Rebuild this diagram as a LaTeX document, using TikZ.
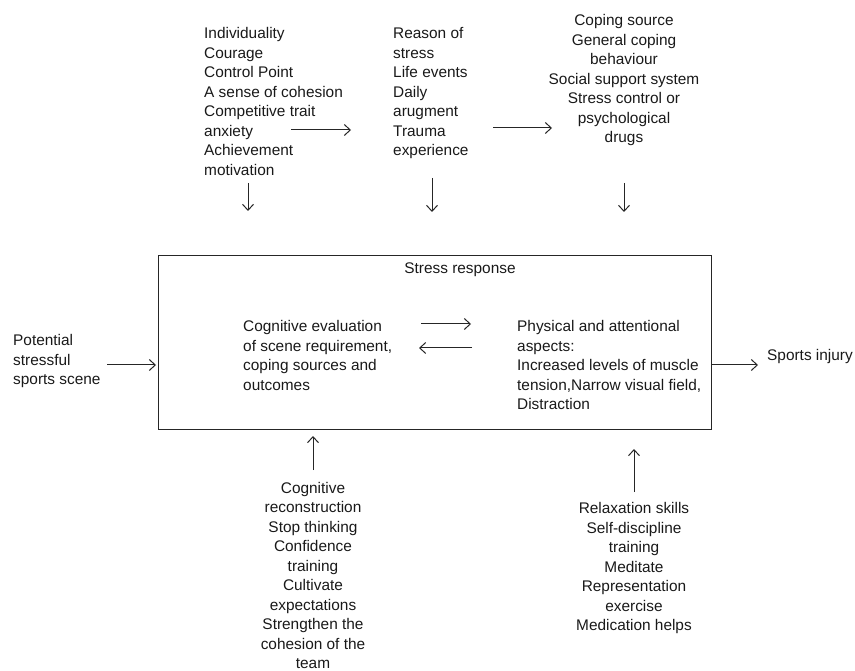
\documentclass[tikz,border=0pt]{standalone}
\usepackage{fontspec}
\setmainfont{Liberation Sans}
\usetikzlibrary{arrows.meta}
\begin{document}
\begin{tikzpicture}[x=1pt,y=-1pt,
  txt/.style={inner sep=0pt, font=\fontsize{15.4}{19.5}\selectfont, text=black!90},
  arr/.style={-{Straight Barb[length=6pt,width=11pt]}, line width=1pt, draw=black!85},
  frame/.style={draw=black!85, line width=1pt, inner sep=0pt}]
\useasboundingbox (0,0) rectangle (855,671);
% top text blocks
\node[txt, anchor=north west, align=left] (pers) at (204,27.5) {Individuality\\Courage\\Control Point\\A sense of cohesion\\Competitive trait\\anxiety\\Achievement\\motivation};
\node[txt, anchor=north west, align=left] (reason) at (393,27.5) {Reason of\\stress\\Life events\\Daily\\arugment\\Trauma\\experience};
\node[txt, anchor=north, align=center] (coping) at (624,14.5) {Coping source\\General coping\\behaviour\\Social support system\\Stress control or\\psychological\\drugs};
% main box
\node[frame, minimum width=553pt, minimum height=174pt, anchor=north west] (box) at (158,255) {};
\node[txt, anchor=north] (sr) at (460,262.5) {Stress response};
\node[txt, anchor=north west, align=left] (pot) at (13,334.5) {Potential\\stressful\\sports scene};
\node[txt, anchor=north west, align=left] (cog) at (243,320.5) {Cognitive evaluation\\of scene requirement,\\coping sources and\\outcomes};
\node[txt, anchor=north west, align=left] (phys) at (517,320.5) {Physical and attentional\\aspects:\\Increased levels of muscle\\tension,Narrow visual field,\\Distraction};
\node[txt, anchor=north west] (inj) at (767,349.5) {Sports injury};
% bottom blocks
\node[txt, anchor=north, align=center] (cogr) at (313,482) {Cognitive\\reconstruction\\Stop thinking\\Confidence\\training\\Cultivate\\expectations\\Strengthen the\\cohesion of the\\team};
\node[txt, anchor=north, align=center] (relax) at (634,502.5) {Relaxation skills\\Self-discipline\\training\\Meditate\\Representation\\exercise\\Medication helps};
% arrow end points
\coordinate (h1s) at (291,130); \coordinate (h1e) at (351,130);
\coordinate (h2s) at (493,128); \coordinate (h2e) at (552,128);
\coordinate (d1s) at (248,183); \coordinate (d1e) at (248,211);
\coordinate (d2s) at (432,178); \coordinate (d2e) at (432,212);
\coordinate (d3s) at (624,183); \coordinate (d3e) at (624,212);
\coordinate (ins) at (107,365);
\coordinate (outs) at (758,365);
\coordinate (rs) at (421,324); \coordinate (re) at (471,324);
\coordinate (ls) at (472,348); \coordinate (le) at (419,348);
\coordinate (u1s) at (313,470); \coordinate (u1e) at (313,436);
\coordinate (u2s) at (634,492); \coordinate (u2e) at (634,449);
% arrows
\draw[arr] (h1s) -- (h1e);
\draw[arr] (h2s) -- (h2e);
\draw[arr] (d1s) -- (d1e);
\draw[arr] (d2s) -- (d2e);
\draw[arr] (d3s) -- (d3e);
\draw[arr, shorten >=2pt] (ins) -- (box.west |- ins);
\draw[arr] (box.east |- outs) -- (outs);
\draw[arr] (rs) -- (re);
\draw[arr] (ls) -- (le);
\draw[arr] (u1s) -- (u1e);
\draw[arr] (u2s) -- (u2e);
\end{tikzpicture}
\end{document}
